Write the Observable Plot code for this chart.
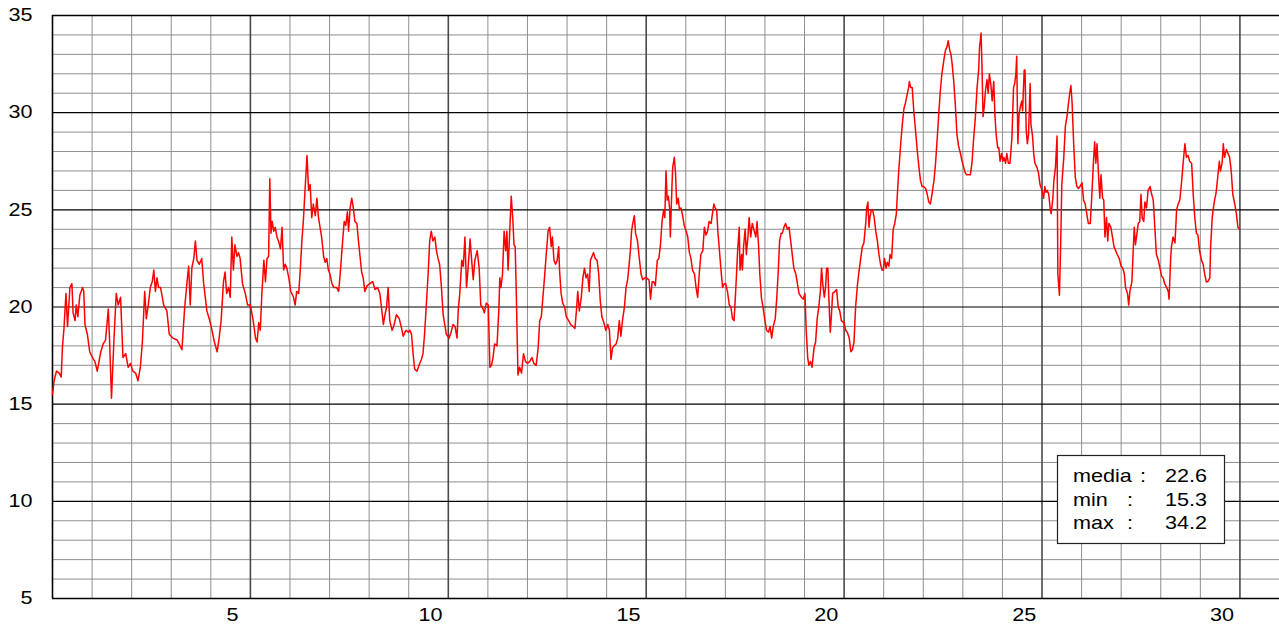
<!DOCTYPE html>
<html>
<head>
<meta charset="utf-8">
<script src="https://cdn.jsdelivr.net/npm/d3@7"></script>
<script src="https://cdn.jsdelivr.net/npm/@observablehq/plot@0.6"></script>
<style>
  html, body { margin: 0; padding: 0; background: #fff; }
  #chart { width: 1279px; height: 627px; }
</style>
</head>
<body>
<div id="chart"></div>
<script>
// ---- data (time in days, temperature) ----
const days1 = [0.00,0.04,0.10,0.17,0.22,0.25,0.29,0.34,0.38,0.44,0.49,0.52,0.57,0.60,0.64,0.69,0.76,0.79,0.82,0.88,0.94,1.01,1.07,1.13,1.22,1.28,1.34,1.41,1.44,1.49,1.55,1.61,1.66,1.72,1.78,1.85,1.91,1.97,2.03,2.10,2.16,2.22,2.27,2.33,2.37,2.42,2.47,2.52,2.56,2.60,2.64,2.68,2.73,2.81,2.89,2.95,3.04,3.15,3.20,3.27,3.34,3.40,3.44,3.48,3.52,3.57,3.61,3.65,3.71,3.77,3.82,3.90,3.96,4.03,4.09,4.16,4.21,4.26,4.32,4.36,4.40,4.45,4.49,4.53,4.57,4.61,4.66,4.70,4.74,4.80,4.87,4.93];
const temps1 = [15.5,16.2,16.7,16.6,16.4,17.9,18.9,20.7,19.0,21.0,21.2,19.7,19.3,20.1,19.5,20.6,21.0,20.8,19.1,18.6,17.7,17.4,17.2,16.7,17.7,18.1,18.3,19.9,18.4,15.3,18.2,20.7,20.1,20.5,17.4,17.6,16.9,17.1,16.7,16.6,16.2,16.9,18.2,20.8,19.4,20.1,21.0,21.3,21.9,20.8,21.5,21.0,21.0,20.1,19.8,18.6,18.4,18.3,18.1,17.8,20.0,21.3,22.1,20.1,22.0,22.5,23.4,22.4,22.2,22.5,21.2,19.8,19.4,18.8,18.2,17.7,18.4,19.3,21.3,21.8,20.7,21.0,20.5,23.6,21.9,23.2,22.6,22.8,22.5,21.2,20.7,20.1];

const days2 = [5.00,5.07,5.13,5.17,5.21,5.25,5.29,5.34,5.38,5.42,5.46,5.49,5.52,5.55,5.59,5.63,5.67,5.71,5.76,5.80,5.84,5.88,5.92,5.97,6.02,6.09,6.13,6.17,6.22,6.26,6.30,6.34,6.38,6.43,6.47,6.51,6.55,6.59,6.64,6.68,6.72,6.76,6.80,6.85,6.89,6.93,6.97,7.01,7.06,7.11,7.18,7.23,7.28,7.33,7.37,7.41,7.45,7.48,7.52,7.56,7.60,7.64,7.69,7.73,7.77,7.81,7.85,7.89,7.95,8.02,8.09,8.15,8.21,8.27,8.31,8.36,8.40,8.44,8.48,8.52,8.58,8.62,8.69,8.76,8.82,8.86,8.93,8.99,9.03,9.07,9.11,9.15,9.21,9.26,9.32,9.36,9.40,9.45,9.49,9.53,9.57,9.61,9.66,9.70,9.74,9.78,9.82,9.87,9.91,9.95];
const temps2 = [20.1,19.3,18.4,18.2,19.2,18.8,20.7,22.4,21.3,22.5,22.6,26.6,23.8,24.4,23.9,24.1,23.6,23.4,23.0,24.1,21.9,22.2,22.0,21.5,20.8,20.5,20.1,20.8,20.7,21.9,23.4,24.5,26.0,27.8,26.0,26.3,24.6,25.3,24.7,25.6,24.6,24.1,23.6,22.6,22.3,22.5,21.9,21.7,21.2,21.0,21.0,20.8,22.0,23.4,24.4,24.2,24.9,23.9,25.1,25.6,25.1,24.4,24.3,23.4,22.6,21.8,21.5,20.8,21.1,21.2,21.3,20.9,21.0,20.7,20.0,19.1,19.6,20.0,21.0,19.3,18.8,19.0,19.6,19.4,18.9,18.5,18.8,18.7,18.8,18.6,17.6,16.8,16.7,17.0,17.3,17.6,18.6,20.3,21.7,23.4,23.9,23.4,23.6,22.9,22.5,22.2,21.2,19.6,19.1,18.6];

const days3 = [10.02,10.07,10.12,10.17,10.22,10.25,10.29,10.34,10.38,10.42,10.46,10.50,10.55,10.59,10.63,10.67,10.73,10.78,10.82,10.86,10.91,10.96,11.01,11.05,11.09,11.13,11.17,11.23,11.28,11.30,11.33,11.37,11.41,11.45,11.48,11.51,11.55,11.59,11.63,11.66,11.69,11.72,11.76,11.80,11.85,11.90,11.95,12.00,12.06,12.11,12.16,12.22,12.27,12.31,12.35,12.39,12.43,12.47,12.52,12.56,12.60,12.63,12.67,12.71,12.75,12.79,12.81,12.85,12.89,12.94,12.98,13.04,13.09,13.15,13.20,13.24,13.27,13.31,13.36,13.40,13.44,13.48,13.52,13.56,13.59,13.63,13.67,13.71,13.76,13.80,13.84,13.88,13.93,13.98,14.03,14.07,14.11,14.15,14.19,14.24,14.28,14.32,14.36,14.40,14.45,14.49,14.53,14.56,14.60,14.63,14.66,14.70,14.73,14.78,14.82,14.87,14.91,14.97];
const temps3 = [18.4,18.7,19.1,19.0,18.4,19.8,20.7,22.4,22.1,23.6,21.0,22.0,23.5,22.4,21.4,22.4,22.9,22.0,20.1,20.0,19.7,20.2,20.1,16.9,17.0,17.4,18.1,18.0,20.0,21.5,21.0,21.7,23.9,22.9,23.9,21.9,23.8,25.7,24.5,23.2,23.1,20.5,16.5,16.9,16.6,17.6,17.2,17.1,17.2,17.4,17.1,17.0,17.9,19.3,19.5,20.5,21.5,22.6,23.9,24.1,23.1,23.6,22.4,22.2,22.4,23.1,21.9,20.7,20.2,20.0,19.5,19.3,19.1,19.0,18.9,19.9,20.8,19.8,20.5,21.5,22.0,21.5,21.7,20.8,22.4,22.6,22.8,22.5,22.4,21.7,20.3,19.5,19.2,18.8,19.1,18.8,17.3,17.9,18.0,18.1,18.4,19.3,18.5,19.3,20.0,21.0,21.4,22.0,22.9,23.9,24.3,24.7,23.8,23.4,22.6,21.7,21.4,21.5];

const days4 = [15.00,15.07,15.11,15.15,15.19,15.23,15.28,15.32,15.36,15.40,15.44,15.47,15.50,15.53,15.56,15.59,15.61,15.65,15.67,15.71,15.74,15.77,15.81,15.84,15.88,15.92,15.96,16.01,16.05,16.09,16.13,16.17,16.22,16.26,16.30,16.34,16.38,16.43,16.47,16.51,16.55,16.59,16.64,16.68,16.71,16.74,16.78,16.81,16.85,16.89,16.93,16.97,17.01,17.06,17.10,17.14,17.18,17.22,17.27,17.31,17.35,17.37,17.41,17.43,17.46,17.50,17.53,17.57,17.60,17.64,17.68,17.73,17.77,17.80,17.84,17.87,17.91,17.95,18.00,18.04,18.09,18.13,18.17,18.21,18.26,18.30,18.34,18.37,18.41,18.44,18.48,18.52,18.57,18.61,18.65,18.69,18.73,18.78,18.82,18.86,18.92,18.97,19.01,19.04,19.08,19.11,19.15,19.19,19.24,19.28,19.32,19.36,19.40,19.43,19.46,19.50,19.53,19.56,19.59,19.61,19.65,19.68,19.71,19.77,19.81,19.85,19.89,19.93,19.99];
const temps4 = [21.5,21.4,20.4,21.3,21.3,21.1,22.4,22.5,23.2,24.4,25.0,24.6,27.0,25.5,25.7,25.1,23.6,26.2,27.2,27.7,26.9,25.3,25.6,25.0,25.1,24.7,24.2,23.9,23.6,22.8,22.5,21.9,21.7,21.0,20.5,21.7,22.7,22.9,24.1,23.7,23.9,24.4,24.3,24.9,25.3,25.1,25.0,23.9,22.9,21.9,21.0,21.2,21.2,20.7,20.1,20.0,19.4,19.3,21.2,22.9,24.1,21.9,22.7,21.9,23.1,24.0,22.7,23.6,24.6,23.6,24.3,23.9,23.6,24.4,23.1,21.7,20.5,20.0,19.3,18.8,18.7,19.0,18.4,19.0,19.4,20.5,22.0,23.4,23.8,23.8,24.1,24.3,24.0,24.1,23.4,22.7,22.0,21.7,21.2,20.7,20.5,20.4,20.7,18.9,17.4,17.0,17.2,16.9,17.9,18.2,19.4,20.0,20.8,22.0,21.2,20.5,21.0,22.0,22.0,20.7,18.7,19.6,20.7,20.8,20.9,20.0,19.8,19.3,19.2];

const days5 = [20.00,20.04,20.08,20.13,20.17,20.21,20.25,20.29,20.34,20.38,20.42,20.46,20.50,20.55,20.57,20.60,20.63,20.65,20.69,20.72,20.76,20.80,20.84,20.88,20.92,20.96,20.99,21.02,21.06,21.09,21.13,21.16,21.20,21.24,21.28,21.32,21.34,21.38,21.43,21.47,21.51,21.55,21.59,21.63,21.65,21.68,21.72,21.76,21.80,21.85,21.89,21.93,21.97,22.01,22.06,22.10,22.14,22.18,22.22,22.27,22.31,22.35,22.39,22.43,22.47,22.52,22.56,22.60,22.63,22.67,22.70,22.73,22.77,22.81,22.85,22.89,22.94,22.98,23.02,23.06,23.10,23.15,23.19,23.23,23.27,23.31,23.36,23.40,23.42,23.46,23.48,23.51,23.54,23.57,23.61,23.64,23.67,23.71,23.74,23.78,23.81,23.84,23.88,23.91,23.94,23.98,24.01,24.04,24.08,24.11,24.15,24.19,24.24,24.28,24.31,24.34,24.36,24.39,24.42,24.45,24.49,24.51,24.55,24.57,24.60,24.63,24.66,24.70,24.72,24.76,24.79,24.82,24.87,24.91,24.95];
const temps5 = [19.2,18.8,18.7,18.4,17.7,17.8,18.2,20.0,21.2,21.9,22.5,23.1,23.3,24.4,25.1,25.4,24.1,24.6,25.0,25.0,24.6,23.9,23.4,22.7,22.2,21.9,21.9,22.5,22.0,22.3,22.1,22.7,22.5,24.0,24.3,24.8,25.6,27.0,28.4,29.4,30.2,30.5,30.9,31.3,31.6,31.3,31.3,30.1,29.2,28.0,27.2,26.5,26.2,26.2,26.1,25.8,25.4,25.3,25.8,26.5,27.4,28.6,29.9,31.1,32.0,32.7,33.2,33.4,33.7,33.2,33.0,32.5,31.6,30.4,28.9,28.3,27.9,27.5,27.2,26.9,26.8,26.8,26.8,27.4,28.6,29.6,31.3,32.2,33.3,34.1,32.7,29.8,30.3,31.1,31.7,31.0,32.0,31.4,30.6,31.6,29.9,28.9,28.2,28.2,27.5,27.9,27.5,27.7,27.4,27.9,27.4,27.4,28.7,31.3,31.5,32.0,32.9,28.4,29.9,30.3,30.6,30.1,32.2,32.2,29.1,28.4,28.9,31.5,29.4,28.8,27.9,27.4,27.2,26.9,26.3];

const days6 = [25.00,25.04,25.07,25.10,25.13,25.17,25.21,25.23,25.27,25.30,25.34,25.38,25.40,25.44,25.47,25.50,25.55,25.59,25.63,25.67,25.70,25.73,25.76,25.80,25.84,25.88,25.92,25.96,26.01,26.05,26.09,26.13,26.17,26.22,26.26,26.30,26.33,26.36,26.39,26.43,26.46,26.49,26.53,26.56,26.59,26.63,26.66,26.69,26.74,26.78,26.82,26.86,26.90,26.95,27.00,27.04,27.08,27.11,27.16,27.19,27.22,27.27,27.31,27.33,27.36,27.40,27.43,27.47,27.50,27.53,27.57,27.60,27.64,27.68,27.73,27.77,27.81,27.85,27.89,27.94,27.98,28.02,28.06,28.10,28.15,28.19,28.21,28.25,28.27,28.31,28.36,28.40,28.44,28.48,28.52,28.57,28.61,28.65,28.69,28.73,28.78,28.82,28.86,28.90,28.94,28.98,29.03,29.07,29.11,29.15,29.19,29.24,29.26,29.30,29.33,29.36,29.40,29.45,29.48,29.51,29.55,29.58,29.61,29.66,29.70,29.74,29.78,29.82,29.87,29.91,29.95,29.99];
const temps6 = [26.0,25.6,26.2,25.9,26.0,25.8,25.0,24.8,25.5,26.5,27.2,28.8,21.7,20.6,23.1,26.3,27.7,29.3,29.8,30.5,31.0,31.4,30.5,28.4,26.7,26.2,26.1,26.2,26.4,25.5,25.3,24.8,24.3,24.3,25.8,27.5,28.5,27.4,28.4,26.7,25.6,26.8,25.6,25.5,23.6,24.6,23.4,24.3,24.1,23.6,23.1,22.9,22.7,22.5,22.1,22.0,21.7,21.0,20.7,20.1,20.8,21.3,23.2,24.1,23.2,23.8,24.3,24.4,25.8,24.6,24.4,25.4,25.1,26.0,26.2,25.8,25.5,24.1,22.7,22.4,22.0,21.6,21.5,21.2,21.0,20.8,20.4,22.5,23.1,23.6,23.3,25.0,25.3,25.5,26.3,27.5,28.4,27.7,27.8,27.5,27.4,25.8,24.6,23.8,23.7,22.9,22.4,22.2,21.7,21.3,21.3,21.5,23.1,24.6,25.1,25.5,25.9,26.9,27.5,27.0,27.4,28.4,27.7,28.1,27.9,27.7,27.0,25.8,25.3,24.8,24.1,24.0];

// axis ticks and summary box
const yTicks = [5, 10, 15, 20, 25, 30, 35];
const xTicks = [5, 10, 15, 20, 25, 30];
const statLabels = ["media", "min", "max"];
const statValues = [22.6, 15.3, 34.2];

// ---- build table ----
const allDays = [days1, days2, days3, days4, days5, days6].flat();
const allTemps = [temps1, temps2, temps3, temps4, temps5, temps6].flat();
const series = allDays.map((d, i) => ({day: d, temp: allTemps[i]}));

const minorX = d3.range(1, 31).filter(d => d % 5 !== 0);
const minorY = d3.range(6, 35).filter(d => d % 5 !== 0);
const majorYInner = yTicks.filter(d => d > 5 && d < 35);

const FONT = "'Liberation Sans', Arial, sans-serif";

const chart = Plot.plot({
  width: 1279,
  height: 627,
  marginTop: 15,
  marginBottom: 29,
  marginLeft: 52,
  marginRight: 0,
  x: {domain: [0, 31], axis: null},
  y: {domain: [5, 35], axis: null},
  style: {background: "#fff", fontFamily: FONT, overflow: "visible"},
  marks: [
    Plot.ruleY(minorY, {stroke: "#8f8f8f", strokeWidth: 1}),
    Plot.ruleX(minorX, {stroke: "#8f8f8f", strokeWidth: 1}),
    Plot.ruleX(xTicks, {stroke: "#4a4a4a", strokeWidth: 1.6}),
    Plot.ruleY(majorYInner, {stroke: "#000", strokeWidth: 1.2}),
    Plot.ruleY([35], {stroke: "#000", strokeWidth: 1.3}),
    Plot.ruleY([5], {stroke: "#000", strokeWidth: 1.6}),
    Plot.ruleX([0], {stroke: "#000", strokeWidth: 1.6}),
    Plot.line(series, {x: "day", y: "temp", stroke: "#ff0000", strokeWidth: 1.5}),
    Plot.text(yTicks, {x: 0, y: d => d, text: d => String(d), dx: -20, textAnchor: "end", lineAnchor: "middle", fontSize: 18, fill: "#000"}),
    Plot.text(xTicks, {x: d => d - 0.45, y: 5, text: d => String(d), dy: 17, textAnchor: "middle", lineAnchor: "middle", fontSize: 18, fill: "#000"})
  ]
});

document.getElementById("chart").appendChild(chart);

// widen axis labels slightly to match the reference glyph proportions
const svg = d3.select(chart);
svg.selectAll("text").each(function() {
  const t = this.getAttribute("transform") || "";
  if (t && !t.includes("scale")) this.setAttribute("transform", t + " scale(1.2,1)");
});

// summary box (annotation)
const box = svg.append("g")
  .attr("font-family", FONT).attr("font-size", 18).attr("fill", "#000")
  .attr("text-anchor", "start");
box.append("rect")
  .attr("x", 1057.5).attr("y", 455.5).attr("width", 167).attr("height", 88)
  .attr("fill", "#fff").attr("stroke", "#222").attr("stroke-width", 1.2);
const colonX = [1140, 1127, 1127];
statLabels.forEach((lab, i) => {
  const yb = 482 + i * 23.6;
  box.append("text").attr("text-anchor", "start").attr("transform", `translate(1073,${yb}) scale(1.2,1)`).text(lab);
  box.append("text").attr("text-anchor", "start").attr("transform", `translate(${colonX[i]},${yb}) scale(1.2,1)`).text(":");
  box.append("text").attr("text-anchor", "end").attr("transform", `translate(1207,${yb}) scale(1.2,1)`).text(statValues[i].toFixed(1));
});
</script>
</body>
</html>
